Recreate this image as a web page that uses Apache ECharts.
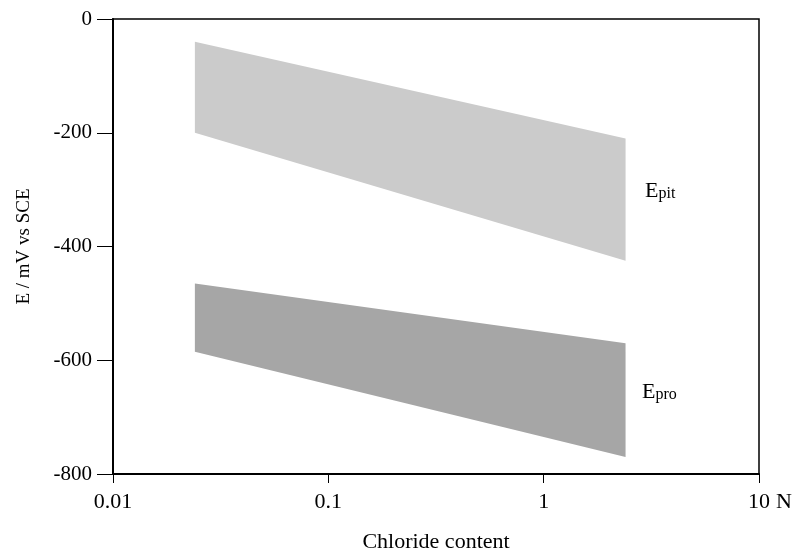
<!DOCTYPE html>
<html><head><meta charset="utf-8">
<script src="https://cdn.jsdelivr.net/npm/echarts@6/dist/echarts.min.js"></script>
<style>html,body{margin:0;padding:0;background:#fff}#c{width:806px;height:555px}</style>
</head><body><div id="c"></div>
<script>
// Band end points (chloride content, N)
const bandX = [0.024, 2.4];
// E_pit band edges (mV vs SCE) at left / right ends
const pitTop = [-40, -210];
const pitBottom = [-200, -425];
// E_pro band edges
const proTop = [-465, -570];
const proBottom = [-585, -770];
const xTicks = [0.01, 0.1, 1, 10];
const yTicks = [0, -200, -400, -600, -800];
const bandNames = ['pit', 'pro'];

const font = 'Liberation Serif';
const chart = echarts.init(document.getElementById('c'), null, {renderer: 'canvas'});

function band(top, bottom, color) {
  return {
    type: 'custom',
    data: [[bandX[0], bandX[1], top[0], top[1], bottom[0], bottom[1]]],
    encode: {x: [0, 1], y: [2, 3, 4, 5]},
    renderItem: function (params, api) {
      const x0 = api.value(0), x1 = api.value(1);
      const pts = [
        api.coord([x0, api.value(2)]),
        api.coord([x1, api.value(3)]),
        api.coord([x1, api.value(5)]),
        api.coord([x0, api.value(4)])
      ];
      return {type: 'polygon', shape: {points: pts}, style: {fill: color}};
    },
    z: 1
  };
}

const subRich = {
  e: {fontFamily: font, fontSize: 22, fill: '#000', verticalAlign: 'bottom'},
  s: {fontFamily: font, fontSize: 16, fill: '#000', padding: [9, 0, 0, 0], verticalAlign: 'bottom'}
};

chart.setOption({
  animation: false,
  backgroundColor: '#fff',
  grid: {left: 113, right: 47, top: 19, bottom: 81, containLabel: false, outerBoundsMode: 'none',
    show: true, borderColor: '#000', borderWidth: 1.5, backgroundColor: 'transparent'},
  xAxis: {
    type: 'log', logBase: 10, min: xTicks[0], max: xTicks[xTicks.length - 1],
    axisLine: {onZero: false, lineStyle: {color: '#000', width: 2}},
    axisTick: {show: true, length: 9, inside: false, lineStyle: {color: '#000', width: 1}},
    minorTick: {show: false},
    splitLine: {show: false},
    axisLabel: {color: '#000', fontFamily: font, fontSize: 22, margin: 17,
      formatter: function (v) { return String(+(+v).toPrecision(3)); }},
    name: 'Chloride content', nameLocation: 'middle', nameGap: 57,
    nameTextStyle: {color: '#000', fontFamily: font, fontSize: 22}
  },
  yAxis: {
    type: 'value', min: yTicks[yTicks.length - 1], max: yTicks[0], interval: 200,
    axisLine: {show: true, onZero: false, lineStyle: {color: '#000', width: 2}},
    axisTick: {show: true, length: 16, lineStyle: {color: '#000', width: 1}},
    splitLine: {show: false},
    axisLabel: {color: '#000', fontFamily: font, fontSize: 21, margin: 21},
    name: 'E / mV vs SCE', nameLocation: 'middle', nameGap: 79, nameRotate: 90,
    nameTextStyle: {color: '#000', fontFamily: font, fontSize: 19}
  },
  series: [band(pitTop, pitBottom, '#cbcbcb'), band(proTop, proBottom, '#a6a6a6')],
  graphic: [
    {type: 'text', left: 776, top: 491, style: {text: 'N', fill: '#000', font: '22px "Liberation Serif"'}},
    {type: 'text', left: 645, top: 180, style: {text: '{e|E}{s|' + bandNames[0] + '}', rich: subRich}},
    {type: 'text', left: 642, top: 381, style: {text: '{e|E}{s|' + bandNames[1] + '}', rich: subRich}}
  ]
});
</script></body></html>
